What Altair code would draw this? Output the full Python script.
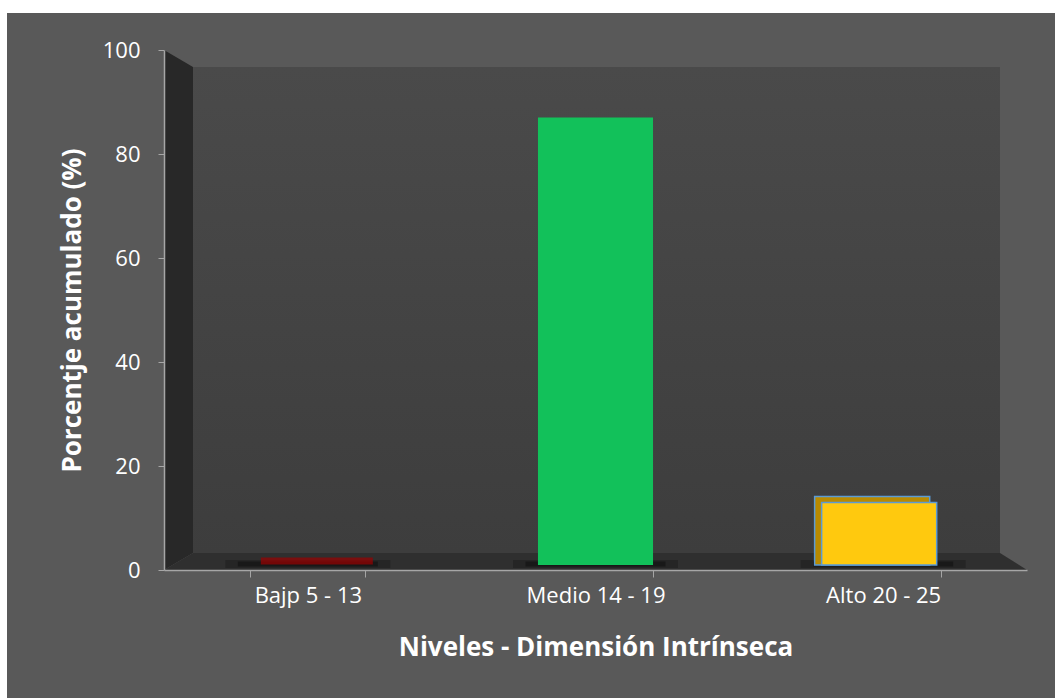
import altair as alt
import pandas as pd

# ---- data ----
categories = ["Bajp 5 - 13", "Medio 14 - 19", "Alto 20 - 25"]
values = [0, 87, 13]
bar_colors = ["#8b0000", "#12c15a", "#ffc90e"]
y_ticks = [0, 20, 40, 60, 80, 100]

df = pd.DataFrame({"cat": categories, "value": values})

W, H = 863, 520
FONT = "Open Sans"

xscale = alt.Scale(domain=categories, paddingInner=0.6, paddingOuter=0.3)
yscale = alt.Scale(domain=[0, 100])

# ---- decorations (3D walls) ----
bg = alt.Chart(pd.DataFrame({"k": [0]})).mark_rect(color="#595959").encode(
    x=alt.value(-157), x2=alt.value(W + 28), y=alt.value(-37), y2=alt.value(H + 128)
)

back_wall = alt.Chart(pd.DataFrame({"k": [0]})).mark_rect(
    fill=alt.LinearGradient(
        gradient="linear",
        stops=[alt.GradientStop(color="#4a4a4a", offset=0),
               alt.GradientStop(color="#3d3d3d", offset=1)],
        x1=0, x2=0, y1=0, y2=1,
    )
).encode(x=alt.value(29), x2=alt.value(836), y=alt.value(17), y2=alt.value(503))

left_wall_df = pd.DataFrame({"px": [0, 29], "top": [0, 17], "bot": [520, 503]})
left_wall = alt.Chart(left_wall_df).mark_area(color="#282828").encode(
    x=alt.X("px:Q", scale=None, axis=None),
    y=alt.Y("top:Q", scale=None, axis=None),
    y2="bot:Q",
)

floor_df = pd.DataFrame({"px": [0, 29, 836, 863], "top": [520, 503, 503, 520], "bot": [520, 520, 520, 520]})
floor = alt.Chart(floor_df).mark_area(color="#2f2f2f").encode(
    x=alt.X("px:Q", scale=None, axis=None),
    y=alt.Y("top:Q", scale=None, axis=None),
    y2="bot:Q",
)

base = alt.Chart(df)

shadow_outer = base.mark_tick(color="#151515", opacity=0.35, thickness=8, size=165, yOffset=-6).encode(
    x=alt.X("cat:N", scale=xscale, sort=categories, axis=None),
    y=alt.Y("zero:Q", scale=yscale, axis=None),
).transform_calculate(zero="0")

shadow = base.mark_tick(color="#111111", opacity=0.6, thickness=5, size=140, yOffset=-6).encode(
    x=alt.X("cat:N", scale=xscale, sort=categories, axis=None),
    y=alt.Y("zero:Q", scale=yscale, axis=None),
).transform_calculate(zero="0")

red_slab = base.transform_filter("datum.value < 1").mark_tick(
    color="#9a0000", thickness=7, size=112, xOffset=9, yOffset=-9
).encode(
    x=alt.X("cat:N", scale=xscale, sort=categories, axis=None),
    y=alt.Y("value:Q", scale=yscale, axis=None),
)

yellow_back = base.transform_filter("datum.value > 1 && datum.value < 50").mark_bar(
    color="#b88a00", stroke="#5b9bd5", strokeWidth=1.5, xOffset=-11, yOffset=-6
).encode(
    x=alt.X("cat:N", scale=xscale, sort=categories, axis=None),
    y=alt.Y("value:Q", scale=yscale, axis=None, stack=None),
    y2=alt.value(H - 5),
)

yellow_front = base.transform_filter("datum.value > 1 && datum.value < 50").mark_bar(
    color="#ffc90e", stroke="#5b9bd5", strokeWidth=1.5, xOffset=-4
).encode(
    x=alt.X("cat:N", scale=xscale, sort=categories, axis=None),
    y=alt.Y("value:Q", scale=yscale, axis=None, stack=None),
    y2=alt.value(H - 5),
)

bars = base.mark_bar(strokeWidth=1.5).encode(
    x=alt.X(
        "cat:N", scale=xscale, sort=categories,
        axis=alt.Axis(
            title="Niveles - Dimensión Intrínseca", labelAngle=0, tickBand="extent", zindex=2,
            domainColor="#a6a6a6", domainWidth=1.5, tickColor="#a6a6a6", tickSize=7,
            labelColor="white", labelFont=FONT, labelFontSize=22, labelPadding=8,
            titleColor="white", titleFont=FONT, titleFontSize=26, titleFontWeight="bold",
            titleY=77, titleBaseline="middle",
        ),
    ),
    y=alt.Y(
        "value:Q", scale=yscale, stack=None,
        axis=alt.Axis(
            title="Porcentje acumulado (%)", values=y_ticks, grid=False, zindex=2,
            domainColor="#a6a6a6", domainWidth=1.5, tickColor="#a6a6a6", tickSize=6,
            labelColor="white", labelFont=FONT, labelFontSize=22, labelPadding=18,
            titleColor="white", titleFont=FONT, titleFontSize=26, titleFontWeight="bold",
            titleX=-92, titleY=H / 2, titleAngle=-90, titleAlign="center", titleBaseline="middle",
        ),
    ),
    y2=alt.value(H - 5),
    color=alt.Color("cat:N", scale=alt.Scale(domain=categories, range=bar_colors), legend=None),
).transform_filter("datum.value > 50")

chart = alt.layer(
    bg, back_wall, left_wall, floor, shadow_outer, shadow, red_slab, yellow_back, yellow_front, bars
).resolve_scale(x="independent", y="independent").properties(
    width=W, height=H,
    background="white",
    padding={"left": 164, "top": 50, "right": 28, "bottom": 128},
    autosize=alt.AutoSizeParams(type="none"),
).configure_view(stroke=None)

chart.save("out.html", embed_options={"renderer": "svg", "actions": False})
